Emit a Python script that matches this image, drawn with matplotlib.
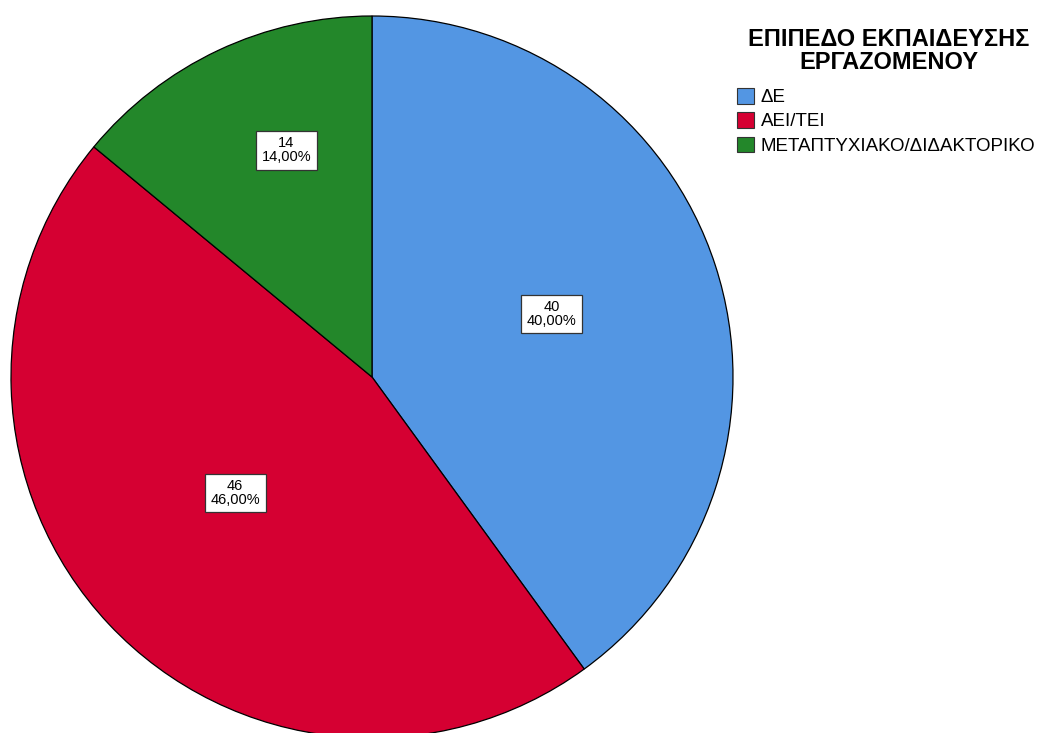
import numpy as np
import matplotlib.pyplot as plt
from matplotlib.patches import Patch

plt.rcParams['font.family'] = ['Liberation Sans', 'DejaVu Sans']

# data
categories = ['ΔΕ', 'ΑΕΙ/ΤΕΙ', 'ΜΕΤΑΠΤΥΧΙΑΚΟ/ΔΙΔΑΚΤΟΡΙΚΟ']
counts = [40, 46, 14]
colors = ['#5396E3', '#D50032', '#23872A']
legend_title = 'ΕΠΙΠΕΔΟ ΕΚΠΑΙΔΕΥΣΗΣ\nΕΡΓΑΖΟΜΕΝΟΥ'

# where the value boxes sit: fraction of radius, angle shift from slice middle
label_dist = [0.528, 0.497, 0.672]
label_shift = [1.3, -2.9, -4.5]

W, H = 1042, 733
fig = plt.figure(figsize=(W / 100, H / 100), dpi=100)
ax = fig.add_axes([0, 0, 1, 1])

cx, cy, r = 372, H - 377, 361
total = sum(counts)
wedges, _ = ax.pie(counts, colors=colors, center=(cx, cy), radius=r,
                   startangle=90, counterclock=False,
                   wedgeprops=dict(edgecolor='black', linewidth=0.9))

for w, n, d, s in zip(wedges, counts, label_dist, label_shift):
    mid = np.deg2rad((w.theta1 + w.theta2) / 2 + s)
    x = cx + d * r * np.cos(mid)
    y = cy + d * r * np.sin(mid)
    pct = f'{100 * n / total:.2f}'.replace('.', ',')
    ax.text(x, y, f'{n}\n{pct}%', ha='center', va='center', fontsize=10.5,
            linespacing=0.98,
            bbox=dict(boxstyle='square,pad=0.38', fc='white', ec='#333333', lw=0.9))

ax.set_xlim(0, W)
ax.set_ylim(0, H)
ax.set_aspect('equal')
ax.axis('off')

# legend heading drawn on its own, entries below it
fig.text(889 / W, 1 - 51 / H, legend_title, ha='center', va='center',
         multialignment='center', fontsize=17, fontweight='bold', linespacing=0.95)

handles = [Patch(facecolor=c, edgecolor='#333333', linewidth=0.8) for c in colors]
leg = ax.legend(handles, categories, loc='upper left',
                bbox_to_anchor=(737 / W, 1 - 88 / H), frameon=False,
                fontsize=13.5, handlelength=0.9, handleheight=0.9,
                handletextpad=0.37, labelspacing=0.32, borderpad=0, borderaxespad=0)

fig.savefig('out.png', dpi=100)
